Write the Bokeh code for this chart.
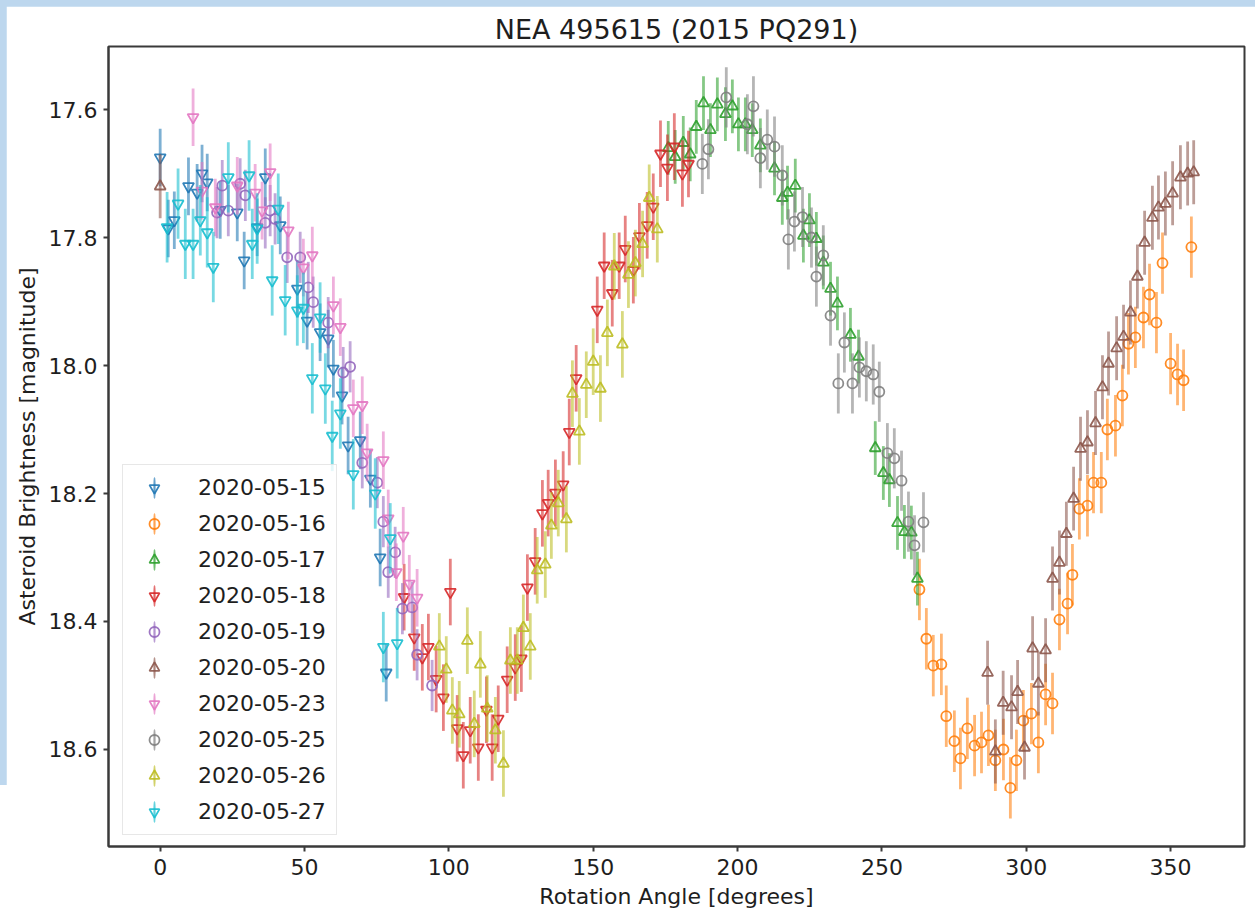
from bokeh.plotting import figure
from bokeh.models import (Range1d, FixedTicker, NumeralTickFormatter, Legend,
                          LegendItem, ColumnDataSource)
from bokeh.layouts import column
from bokeh.embed import file_html
from bokeh.resources import INLINE

# ---- observing sessions -------------------------------------------------
dates = ["2020-05-15", "2020-05-16", "2020-05-17", "2020-05-18", "2020-05-19",
         "2020-05-20", "2020-05-23", "2020-05-25", "2020-05-26", "2020-05-27"]

angle_0515 = [0.0, 2.8, 4.9, 9.8, 12.8, 14.5, 16.3, 20.8, 26.7, 29.1, 33.6, 36.4,
              41.6, 47.5, 50.9, 55.4, 58.2, 60.0, 63.0, 65.1, 69.3, 72.8, 76.2, 78.3]
mag_0515 = [17.675, 17.786, 17.773, 17.720, 17.730, 17.700, 17.714, 17.757, 17.761,
            17.836, 17.784, 17.706, 17.781, 17.880, 17.930, 17.948, 17.958, 18.005,
            18.047, 18.125, 18.117, 18.177, 18.300, 18.480]

angle_0516 = [263.0, 265.4, 267.8, 270.6, 272.3, 275.1, 277.2, 279.6, 282.1, 284.5,
              286.9, 289.3, 292.1, 294.5, 296.6, 299.0, 301.8, 304.2, 306.7, 309.1,
              311.5, 314.3, 316.0, 318.4, 321.2, 323.3, 326.0, 328.1, 330.9, 333.3,
              335.4, 337.8, 340.6, 342.7, 345.1, 347.2, 350.0, 352.4, 354.5, 357.2]
mag_0516 = [18.350, 18.427, 18.469, 18.467, 18.548, 18.587, 18.614, 18.567, 18.594,
            18.589, 18.578, 18.617, 18.600, 18.660, 18.617, 18.555, 18.544, 18.589,
            18.514, 18.528, 18.397, 18.372, 18.327, 18.224, 18.219, 18.183, 18.183,
            18.100, 18.094, 18.047, 17.966, 17.956, 17.925, 17.889, 17.933, 17.840,
            17.997, 18.014, 18.023, 17.815]

angle_0517 = [176.0, 178.4, 181.2, 183.6, 185.7, 188.2, 190.6, 193.0, 195.8, 198.2,
              200.3, 202.7, 205.1, 207.9, 212.8, 215.5, 217.3, 220.0, 222.8, 224.9,
              227.3, 229.7, 232.2, 234.6, 239.1, 241.9, 247.7, 250.5, 252.6, 255.4,
              257.8, 260.2, 262.3]
mag_0517 = [17.660, 17.674, 17.652, 17.670, 17.627, 17.590, 17.632, 17.592, 17.607,
            17.595, 17.623, 17.623, 17.632, 17.656, 17.692, 17.738, 17.730, 17.719,
            17.797, 17.773, 17.802, 17.839, 17.880, 17.903, 17.952, 17.986, 18.129,
            18.168, 18.179, 18.246, 18.260, 18.261, 18.333]

angle_0518 = [84.5, 88.0, 90.8, 92.9, 95.6, 98.1, 100.5, 102.9, 105.0, 107.4, 110.2,
              113.0, 115.0, 117.1, 120.2, 123.0, 125.1, 127.2, 129.9, 132.4, 134.4,
              136.9, 139.6, 141.7, 144.1, 151.4, 153.8, 156.6, 159.0, 161.1, 163.9,
              166.0, 168.7, 170.8, 173.3, 175.7, 178.1, 180.9, 183.0]
mag_0518 = [18.362, 18.425, 18.456, 18.440, 18.490, 18.519, 18.354, 18.567, 18.609,
            18.570, 18.597, 18.538, 18.597, 18.552, 18.491, 18.472, 18.458, 18.347,
            18.306, 18.231, 18.215, 18.199, 18.186, 18.104, 18.020, 17.913, 17.844,
            17.887, 17.844, 17.818, 17.851, 17.798, 17.781, 17.752, 17.669, 17.691,
            17.658, 17.700, 17.685]

angle_0519 = [19.7, 21.5, 23.6, 27.7, 29.5, 36.4, 38.1, 39.8, 44.0, 48.5, 51.3, 53.0,
              58.2, 63.4, 65.8, 70.0, 75.2, 77.3, 79.0, 81.4, 83.9, 87.3, 89.0, 94.2]
mag_0519 = [17.761, 17.719, 17.758, 17.716, 17.734, 17.777, 17.758, 17.771, 17.831,
            17.831, 17.878, 17.901, 17.933, 18.011, 18.002, 18.152, 18.183, 18.244,
            18.323, 18.292, 18.380, 18.378, 18.452, 18.500]

angle_0520 = [0.0, 286.6, 289.3, 292.0, 294.9, 297.0, 299.4, 302.2, 304.2, 306.7,
              309.1, 311.5, 313.9, 316.4, 318.8, 321.2, 324.0, 326.4, 328.5, 331.3,
              333.7, 336.1, 338.5, 341.0, 343.7, 345.8, 348.2, 350.7, 353.4, 355.9, 358.0]
mag_0520 = [17.720, 18.480, 18.603, 18.527, 18.534, 18.510, 18.597, 18.442, 18.497,
            18.445, 18.333, 18.308, 18.263, 18.208, 18.130, 18.120, 18.090, 18.034,
            17.997, 17.973, 17.955, 17.917, 17.861, 17.808, 17.769, 17.753, 17.747,
            17.731, 17.706, 17.700, 17.698]

angle_0523 = [11.4, 14.5, 19.1, 26.7, 32.9, 35.3, 38.1, 44.4, 49.6, 52.7, 60.0, 62.4,
              66.9, 70.0, 71.7, 77.3, 79.0, 81.8, 84.2, 86.3, 89.0]
mag_0523 = [17.612, 17.727, 17.753, 17.719, 17.730, 17.758, 17.698, 17.789, 17.847,
            17.828, 17.906, 17.940, 18.067, 18.062, 18.136, 18.148, 18.239, 18.323,
            18.266, 18.341, 18.363]

angle_0525 = [187.8, 189.9, 196.1, 203.4, 205.5, 207.9, 210.3, 212.8, 215.5, 217.6,
              219.7, 222.5, 225.6, 227.3, 229.7, 232.2, 234.9, 237.0, 239.8, 242.2,
              244.6, 247.0, 249.1, 251.9, 254.3, 256.8, 259.2, 261.3, 264.4]
mag_0525 = [17.685, 17.662, 17.581, 17.623, 17.595, 17.676, 17.647, 17.658, 17.703,
            17.803, 17.775, 17.768, 17.800, 17.861, 17.828, 17.922, 18.028, 17.964,
            18.028, 18.003, 18.009, 18.014, 18.041, 18.137, 18.145, 18.180, 18.244,
            18.281, 18.245]

angle_0526 = [96.7, 99.1, 101.2, 103.6, 106.4, 108.8, 110.9, 113.3, 116.1, 118.9,
              121.3, 123.7, 125.8, 128.2, 130.6, 133.4, 135.5, 137.9, 140.7, 142.8,
              145.2, 147.6, 150.0, 152.5, 154.9, 157.3, 160.1, 162.2, 164.6, 167.1,
              169.4, 172.2]
mag_0526 = [18.439, 18.475, 18.539, 18.545, 18.430, 18.560, 18.467, 18.536, 18.570,
            18.622, 18.461, 18.461, 18.410, 18.439, 18.320, 18.311, 18.250, 18.215,
            18.240, 18.044, 18.103, 18.030, 17.994, 18.036, 17.949, 17.845, 17.967,
            17.858, 17.840, 17.810, 17.738, 17.787]

angle_0527 = [2.4, 6.2, 8.7, 11.4, 13.9, 16.3, 18.4, 23.6, 30.8, 31.9, 33.6, 38.8,
              40.9, 43.3, 47.5, 49.6, 52.7, 55.4, 57.2, 59.6, 62.4, 66.9, 74.5, 77.3,
              79.7, 82.1]
mag_0527 = [17.784, 17.747, 17.810, 17.810, 17.773, 17.792, 17.846, 17.706, 17.703,
            17.810, 17.786, 17.867, 17.755, 17.898, 17.914, 17.910, 18.020, 17.925,
            18.036, 18.110, 18.075, 18.170, 18.200, 18.440, 18.270, 18.434]

# one-sigma photometric uncertainty of each session [mag]
mag_err = [0.045, 0.048, 0.042, 0.052, 0.040, 0.050, 0.045, 0.047, 0.052, 0.055]

x_ticks = [0, 50, 100, 150, 200, 250, 300, 350]
y_ticks = [17.6, 17.8, 18.0, 18.2, 18.4, 18.6]

angles = [angle_0515, angle_0516, angle_0517, angle_0518, angle_0519,
          angle_0520, angle_0523, angle_0525, angle_0526, angle_0527]
mags = [mag_0515, mag_0516, mag_0517, mag_0518, mag_0519,
        mag_0520, mag_0523, mag_0525, mag_0526, mag_0527]

# ---- styling ------------------------------------------------------------
palette = ["#1f77b4", "#ff7f0e", "#2ca02c", "#d62728", "#9467bd",
           "#8c564b", "#e377c2", "#7f7f7f", "#bcbd22", "#17becf"]
marker_types = ["inverted_triangle", "circle", "triangle", "inverted_triangle", "circle",
                "triangle", "inverted_triangle", "circle", "triangle", "inverted_triangle"]
FONT = "DejaVu Sans"
INK = "#1e1e1e"
FRAME = "#3a3a3a"

p = figure(width=1249, height=910, output_backend="svg", toolbar_location=None,
           x_range=Range1d(-17.9, 375.6), y_range=Range1d(18.7516, 17.5015),
           min_border_left=102, min_border_right=11, min_border_top=40,
           min_border_bottom=70, margin=(6, 0, 0, 6),
           background_fill_color="white", border_fill_color="white")

p.title.text = "NEA 495615 (2015 PQ291)"
p.title.align = "center"
p.title.text_font = FONT
p.title.text_font_size = "27px"
p.title.text_font_style = "normal"
p.title.text_color = INK
p.title.standoff = 4

p.outline_line_color = FRAME
p.outline_line_width = 2
p.grid.visible = False

for ax in (p.xaxis[0], p.yaxis[0]):
    ax.axis_line_color = FRAME
    ax.axis_line_width = 2
    ax.major_tick_line_color = FRAME
    ax.major_tick_line_width = 2
    ax.major_tick_out = 5
    ax.major_tick_in = 0
    ax.minor_tick_line_color = None
    ax.major_label_text_font = FONT
    ax.major_label_text_font_size = "22px"
    ax.major_label_text_color = INK
    ax.axis_label_text_font = FONT
    ax.axis_label_text_font_size = "22px"
    ax.axis_label_text_font_style = "normal"
    ax.axis_label_text_color = INK

p.xaxis.ticker = FixedTicker(ticks=x_ticks)
p.yaxis.ticker = FixedTicker(ticks=y_ticks)
p.yaxis.formatter = NumeralTickFormatter(format="0.0")
p.xaxis.axis_label = "Rotation Angle [degrees]"
p.yaxis.axis_label = "Asteroid Brightness [magnitude]"
p.xaxis.major_label_standoff = 7
p.yaxis.major_label_standoff = 6
p.xaxis.axis_label_standoff = 6
p.yaxis.axis_label_standoff = 6

items = []
for date, xs, ys, err, color, mk in zip(dates, angles, mags, mag_err, palette, marker_types):
    src = ColumnDataSource(dict(x=xs, y=ys,
                                lo=[v - err for v in ys], hi=[v + err for v in ys]))
    p.segment(x0="x", y0="lo", x1="x", y1="hi", source=src,
              line_color=color, line_width=2.8, line_alpha=0.58)
    size = 11 if mk != "circle" else 10
    marks = p.scatter(x="x", y="y", source=src, marker=mk, size=size,
                      line_color=color, line_width=1.8, line_alpha=0.9,
                      fill_alpha=0)
    # legend key: a thin upright ellipse stands in for the error bar
    key = p.ellipse(x=[float("nan")], y=[float("nan")], width=1, height=40,
                    width_units="screen", height_units="screen",
                    fill_color=color, fill_alpha=0.6, line_color=color,
                    line_alpha=0.6, line_width=2)
    items.append(LegendItem(label=date, renderers=[key, marks]))

legend = Legend(items=items, location=(14, 11), margin=0, padding=10,
                spacing=11, glyph_width=42, glyph_height=25, label_height=24,
                label_standoff=23,
                label_text_font=FONT, label_text_font_size="22px",
                label_text_color=INK,
                background_fill_color="white", background_fill_alpha=0.8,
                border_line_color="#d0d0d0", border_line_width=1.5)
p.add_layout(legend, "center")

page = column(p, styles={"background": "linear-gradient(to bottom, #bdd7ee 0px, #bdd7ee 785px, #ffffff 785px)"})

open("out.html", "w").write(file_html(page, INLINE))
